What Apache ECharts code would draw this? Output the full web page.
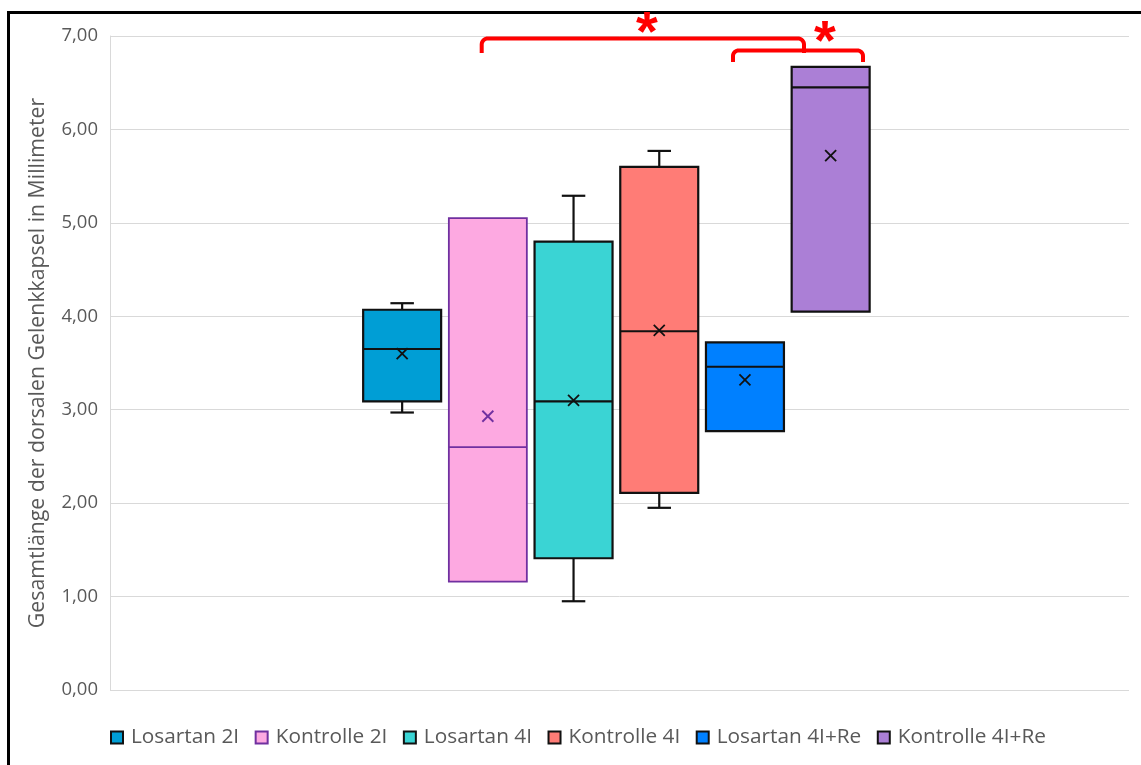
<!DOCTYPE html>
<html>
<head>
<meta charset="utf-8">
<script src="https://cdn.jsdelivr.net/npm/echarts@6/dist/echarts.min.js"></script>
<style>
  html, body { margin: 0; padding: 0; background: #ffffff; }
  #chart { width: 1141px; height: 765px; }
</style>
</head>
<body>
<div id="chart"></div>
<script>
// Groups and their five-number summaries plus mean (mm)
const groups = ['Losartan 2I', 'Kontrolle 2I', 'Losartan 4I', 'Kontrolle 4I', 'Losartan 4I+Re', 'Kontrolle 4I+Re'];
const minValues    = [2.97, 1.16, 0.95, 1.95, 2.77, 4.05];
const q1Values     = [3.09, 1.16, 1.41, 2.11, 2.77, 4.05];
const medianValues = [3.65, 2.60, 3.09, 3.84, 3.46, 6.45];
const q3Values     = [4.07, 5.05, 4.80, 5.60, 3.72, 6.67];
const maxValues    = [4.14, 5.05, 5.29, 5.77, 3.72, 6.67];
const meanValues   = [3.60, 2.93, 3.10, 3.85, 3.32, 5.72];
const yMin = 0, yMax = 7, yStep = 1;

const fillColors = ['#009ed5', '#fda9e1', '#3ad4d4', '#ff7c76', '#0080ff', '#ab7fd6'];
const lineColors = ['#111111', '#7030a0', '#111111', '#111111', '#111111', '#111111'];

const TEXT = '#595959';
const GRID = '#d9d9d9';
const FONT = '"Open Sans", "DejaVu Sans", sans-serif';

function fmt(v) { return v.toFixed(2).replace('.', ','); }

function renderBox(params, api) {
  const cat = api.value(0);
  const mn = api.value(1), q1 = api.value(2), md = api.value(3);
  const q3 = api.value(4), mx = api.value(5), mean = api.value(6);
  const band = api.size([1, 0])[0];
  const half = band * 0.455;
  const capHalf = band * 0.137;
  const cx = api.coord([cat, md])[0];
  const y = v => api.coord([cat, v])[1];
  const stroke = lineColors[params.seriesIndex];
  const fill = fillColors[params.seriesIndex];
  const lw = params.seriesIndex === 1 ? 1.8 : 2.2;
  const line = (x1, y1, x2, y2, w) => ({
    type: 'line',
    shape: { x1, y1, x2, y2 },
    style: { stroke, lineWidth: w || lw }
  });
  const children = [];
  if (mx > q3) {
    children.push(line(cx, y(q3), cx, y(mx)));
    children.push(line(cx - capHalf, y(mx), cx + capHalf, y(mx)));
  }
  if (mn < q1) {
    children.push(line(cx, y(q1), cx, y(mn)));
    children.push(line(cx - capHalf, y(mn), cx + capHalf, y(mn)));
  }
  children.push({
    type: 'rect',
    shape: { x: cx - half, y: y(q3), width: half * 2, height: y(q1) - y(q3) },
    style: { fill, stroke, lineWidth: lw }
  });
  children.push(line(cx - half, y(md), cx + half, y(md)));
  const my = y(mean), m = 5.5;
  children.push(line(cx - m, my - m, cx + m, my + m, 1.8));
  children.push(line(cx - m, my + m, cx + m, my - m, 1.8));
  return { type: 'group', children };
}

const boxSeries = groups.map((g, i) => ({
  name: g,
  type: 'custom',
  xAxisIndex: 1,
  yAxisIndex: 1,
  itemStyle: { color: fillColors[i], borderColor: lineColors[i] },
  encode: { x: 0, y: [1, 2, 3, 4, 5] },
  renderItem: renderBox,
  data: [[i, minValues[i], q1Values[i], medianValues[i], q3Values[i], maxValues[i], meanValues[i]]],
  silent: true
}));

// Significance bracket: open at the bottom, rounded top corners
function bracketPoints(x1, x2, top, bottom, r) {
  const pts = [[x1, bottom], [x1, top + r]];
  for (let k = 1; k < 8; k++) {
    const a = Math.PI - (k / 8) * (Math.PI / 2);
    pts.push([x1 + r + r * Math.cos(a), top + r - r * Math.sin(a)]);
  }
  pts.push([x1 + r, top], [x2 - r, top]);
  for (let k = 1; k < 8; k++) {
    const a = Math.PI / 2 - (k / 8) * (Math.PI / 2);
    pts.push([x2 - r + r * Math.cos(a), top + r - r * Math.sin(a)]);
  }
  pts.push([x2, top + r], [x2, bottom]);
  return pts;
}

const chart = echarts.init(document.getElementById('chart'), null, { renderer: 'canvas' });

chart.setOption({
  animation: false,
  backgroundColor: '#ffffff',
  grid: [
    { left: 110, right: 12, top: 36, bottom: 75 },
    { left: 359.3, width: 514.2, top: 36, bottom: 75 }
  ],
  xAxis: [
    { gridIndex: 0, type: 'category', data: [''], show: false },
    { gridIndex: 1, type: 'category', data: groups, show: false }
  ],
  yAxis: [
    {
      gridIndex: 0, type: 'value', min: yMin, max: yMax, interval: yStep,
      name: 'Gesamtlänge der dorsalen Gelenkkapsel in Millimeter',
      nameLocation: 'middle', nameGap: 62,
      nameTextStyle: { fontFamily: FONT, fontSize: 21.3, color: TEXT },
      axisLine: { show: true, lineStyle: { color: GRID, width: 1 } },
      axisTick: { show: false },
      axisLabel: { margin: 12, fontFamily: FONT, fontSize: 18.5, color: TEXT, formatter: fmt },
      splitLine: { show: true, lineStyle: { color: GRID, width: 1 } }
    },
    { gridIndex: 1, type: 'value', min: yMin, max: yMax, interval: yStep, show: false }
  ],
  legend: {
    left: 105, top: 722,
    icon: 'rect', itemWidth: 12, itemHeight: 12, itemGap: 15.5,
    selectedMode: false,
    textStyle: { fontFamily: FONT, fontSize: 20.8, color: TEXT, padding: [0, 0, 0, 3] },
    data: groups.map((g, i) => ({
      name: g,
      itemStyle: { color: fillColors[i], borderColor: lineColors[i], borderWidth: 2 }
    }))
  },
  series: boxSeries,
  graphic: [
    {
      type: 'rect', z: 100, silent: true,
      shape: { x: 8.5, y: 12.5, width: 1300, height: 900 },
      style: { fill: 'none', stroke: '#000000', lineWidth: 3 }
    },
    {
      type: 'polyline', z: 100, silent: true,
      shape: { points: bracketPoints(481.7, 804, 38.5, 53, 6) },
      style: { fill: 'none', stroke: '#ff0000', lineWidth: 4, lineJoin: 'round' }
    },
    {
      type: 'polyline', z: 100, silent: true,
      shape: { points: bracketPoints(733, 863, 50.5, 62, 5.5) },
      style: { fill: 'none', stroke: '#ff0000', lineWidth: 4, lineJoin: 'round' }
    },
    {
      type: 'text', z: 100, silent: true,
      x: 647, y: 35,
      style: { text: '*', fill: '#ff0000', font: 'bold 56px "Liberation Sans", Arial, sans-serif', textAlign: 'center', textVerticalAlign: 'middle' }
    },
    {
      type: 'text', z: 100, silent: true,
      x: 825, y: 44,
      style: { text: '*', fill: '#ff0000', font: 'bold 56px "Liberation Sans", Arial, sans-serif', textAlign: 'center', textVerticalAlign: 'middle' }
    }
  ]
});
</script>
</body>
</html>
